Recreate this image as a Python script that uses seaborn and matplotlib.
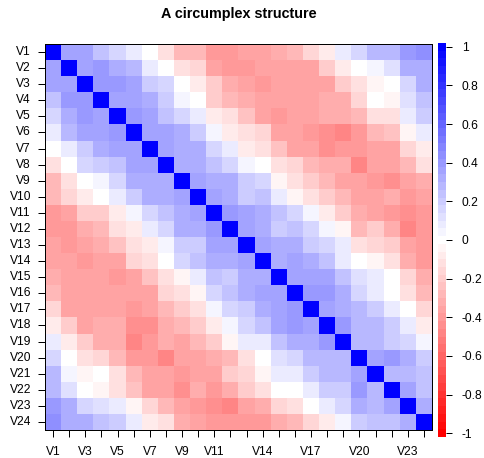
import numpy as np
import pandas as pd
import matplotlib
matplotlib.use("Agg")
import matplotlib.pyplot as plt
from matplotlib.colors import ListedColormap
import seaborn as sns

# Variable names and the subset of column labels printed under the matrix
variables = [f"V{i}" for i in range(1, 25)]
shown_x_labels = ["V1", "V3", "V5", "V7", "V9", "V11", "V14", "V17", "V20", "V23"]

# Upper triangle of the correlation matrix: row i holds r(Vi, Vj) for j > i
upper_rows = [
    [.37, .37, .25, .15, .09, .00, -.13, -.29, -.29, -.40, -.40, -.37, -.37, -.30, -.27, -.17, -.09, .09, .16, .29, .26, .41, .45],
    [.37, .38, .30, .28, .09, .00, -.13, -.16, -.35, -.40, -.41, -.37, -.36, -.35, -.35, -.21, -.09, .00, .05, .12, .30, .30],
    [.40, .40, .34, .20, .15, .00, -.09, -.20, -.30, -.34, -.40, -.36, -.37, -.35, -.37, -.21, -.13, -.05, .00, .15, .33],
    [.37, .37, .32, .20, .05, .00, -.20, -.26, -.31, -.37, -.34, -.35, -.35, -.32, -.32, -.16, .00, -.05, .12, .25],
    [.40, .34, .25, .15, .09, -.09, -.13, -.22, -.34, -.38, -.37, -.37, -.32, -.32, -.27, -.13, -.13, .09, .20],
    [.37, .37, .31, .20, .05, -.09, -.13, -.16, -.35, -.35, -.38, -.43, -.47, -.40, -.28, -.22, -.05, .09],
    [.37, .33, .31, .15, .09, -.07, -.13, -.22, -.35, -.35, -.42, -.39, -.39, -.34, -.34, -.17, -.09],
    [.33, .31, .25, .15, .05, .00, -.13, -.16, -.27, -.31, -.31, -.47, -.35, -.35, -.27, -.13],
    [.35, .33, .33, .20, .15, -.05, -.13, -.21, -.27, -.34, -.37, -.38, -.42, -.35, -.33],
    [.36, .33, .20, .24, .09, -.04, -.13, -.21, -.26, -.34, -.35, -.32, -.40, -.36],
    [.40, .37, .33, .25, .15, .05, -.09, -.18, -.33, -.35, -.38, -.43, -.40],
    [.37, .33, .20, .25, .15, .05, -.05, -.29, -.21, -.31, -.47, -.39],
    [.35, .30, .33, .20, .15, .09, -.13, -.16, -.20, -.35, -.38],
    [.32, .37, .30, .25, .09, .00, -.05, -.13, -.31, -.38],
    [.35, .35, .35, .25, .12, .09, .00, -.16, -.33],
    [.40, .40, .31, .15, .09, .00, -.13, -.28],
    [.37, .33, .29, .20, .09, .00, -.17],
    [.39, .29, .29, .20, .09, -.09],
    [.29, .29, .20, .15, .05],
    [.37, .40, .33, .21],
    [.29, .29, .22],
    [.37, .22],
    [.32],
]

colorbar_ticks = [-1, -0.8, -0.6, -0.4, -0.2, 0, 0.2, 0.4, 0.6, 0.8, 1]

# Assemble the symmetric matrix
n = len(variables)
corr = np.eye(n)
for i, row in enumerate(upper_rows):
    corr[i, i + 1:] = row
    corr[i + 1:, i] = row
corr_df = pd.DataFrame(corr, index=variables, columns=variables)

# 51-step red-white-blue ramp
t = np.linspace(0, 1, 51)
red = np.where(t <= 0.5, 1.0, 2 - 2 * t)
green = np.where(t <= 0.5, 2 * t, 2 - 2 * t)
blue = np.where(t <= 0.5, 2 * t, 1.0)
cmap = ListedColormap(np.column_stack([red, green, blue]))

plt.rcParams["font.family"] = ["Liberation Sans", "DejaVu Sans"]

W, H = 484, 458
fig = plt.figure(figsize=(W / 72, H / 72), dpi=72)
ax = fig.add_axes([45 / W, (H - 430) / H, 387 / W, 386 / H])
cax = fig.add_axes([438 / W, (H - 437) / H, 8 / W, 394 / H])

sns.heatmap(corr_df, ax=ax, cmap=cmap, vmin=-1, vmax=1, cbar=False,
            xticklabels=True, yticklabels=True)

centers = np.arange(n) + 0.5
ax.set_xticks(centers)
ax.set_xticklabels([v if v in shown_x_labels else "" for v in variables], rotation=0)
ax.set_yticks(centers)
ax.set_yticklabels(variables, rotation=0)
ax.tick_params(axis="both", length=7, width=1, direction="out",
               colors="black", labelsize=12)
ax.tick_params(axis="x", pad=9)
ax.tick_params(axis="y", pad=7)
for s in ax.spines.values():
    s.set_visible(True)
    s.set_color("black")
    s.set_linewidth(1)

# Colour key on the right
levels = np.linspace(-1, 1, 51)
edges = np.linspace(-1.02, 1.02, 52)
cax.pcolormesh([0, 1], edges, levels.reshape(-1, 1), cmap=cmap, vmin=-1, vmax=1)
cax.set_xlim(0, 1)
cax.set_ylim(-1.02, 1.02)
cax.set_xticks([])
cax.yaxis.tick_right()
cax.set_yticks(colorbar_ticks)
cax.set_yticklabels([f"{v:g}" for v in colorbar_ticks])
cax.tick_params(axis="y", length=6, width=1, colors="black", labelsize=12, pad=10)
for s in cax.spines.values():
    s.set_visible(False)

fig.text((45 + 432) / 2 / W, 1 - 14 / H, "A circumplex structure",
         fontsize=14.4, fontweight="bold", ha="center", va="center")

fig.savefig("out.png", dpi=72)
